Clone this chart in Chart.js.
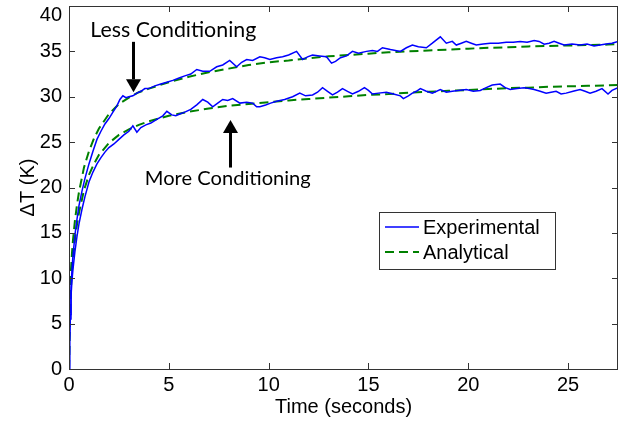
<!DOCTYPE html>
<html><head><meta charset="utf-8">
<script src="https://cdn.jsdelivr.net/npm/chart.js@4/dist/chart.umd.min.js"></script>
<style>html,body{margin:0;padding:0;background:#fff}</style>
</head><body>
<canvas id="c" width="622" height="422"></canvas>
<script>
// ---- data ----
const lessExpT = [0,0.03,0.06,0.1,0.15,0.2,0.3,0.4,0.5,0.65,0.8,1.0,1.2,1.4,1.6,1.8,2.0,2.2,2.4,2.55,2.7,2.85,3.0,3.2,3.4,3.6,3.8,4.0,4.3,4.6,4.9,5.2,5.55,5.8,6.1,6.4,6.7,7.05,7.4,7.7,8.05,8.4,8.65,8.9,9.2,9.56,9.8,10.06,10.4,10.7,11.0,11.4,11.7,11.95,12.2,12.55,12.9,13.15,13.35,13.6,13.9,14.2,14.5,14.9,15.2,15.45,15.7,16.1,16.6,16.9,17.2,17.5,17.9,18.2,18.6,18.9,19.2,19.4,19.65,19.9,20.15,20.4,20.75,21.1,21.5,21.9,22.25,22.6,22.95,23.3,23.55,23.8,24.05,24.3,24.55,24.8,25.2,25.6,25.95,26.3,26.6,26.9,27.2,27.5];
const lessExpY = [0,3,6,9,11,12.5,14.8,16.5,18,19.6,21,22.6,24,25.3,26.2,27,27.6,28.3,29,29.7,30.1,29.9,30.0,30.1,30.4,30.6,30.9,30.9,31.2,31.4,31.6,31.8,32.1,32.3,32.5,33.0,32.8,32.8,33.3,33.5,34.0,33.3,33.8,34.1,34.0,34.4,34.3,34.1,34.3,34.4,34.6,35.0,34.1,34.4,34.6,34.5,34.4,33.7,33.9,34.3,34.5,35.0,34.8,35.0,35.1,35.0,35.4,35.2,35.0,35.4,35.7,35.5,35.4,35.9,36.6,35.9,36.1,35.7,35.9,36.1,35.9,35.7,35.8,35.9,35.9,36.0,36.0,36.1,36.0,36.2,36.1,35.8,35.9,36.1,35.9,35.7,35.8,35.7,35.8,35.6,35.7,35.8,35.9,36.1];

const moreExpT = [0,0.03,0.06,0.1,0.15,0.2,0.3,0.4,0.5,0.65,0.8,1.0,1.2,1.4,1.6,1.8,2.0,2.25,2.5,2.75,3.0,3.2,3.4,3.6,3.85,4.1,4.4,4.7,4.9,5.15,5.35,5.55,5.8,6.1,6.4,6.7,6.95,7.2,7.45,7.7,7.95,8.2,8.56,8.9,9.2,9.4,9.56,9.85,10.1,10.4,10.8,11.2,11.56,11.85,12.2,12.45,12.7,12.95,13.2,13.45,13.7,13.95,14.2,14.5,14.8,15.0,15.2,15.5,15.9,16.25,16.6,16.75,17.0,17.2,17.4,17.6,17.9,18.2,18.6,18.9,19.2,19.5,19.9,20.25,20.6,20.9,21.2,21.6,21.85,22.1,22.45,22.8,23.05,23.3,23.6,23.9,24.15,24.4,24.65,24.9,25.25,25.6,25.85,26.1,26.4,26.7,27.0,27.2,27.5];
const moreExpY = [0,3,5.5,8,9.8,11,13,14.6,16,17.6,19,20.6,21.7,22.6,23.3,23.9,24.4,24.8,25.3,25.8,26.2,26.8,26.1,26.6,26.9,27.1,27.5,27.9,28.4,28.0,27.9,28.1,28.3,28.6,29.1,29.7,29.4,28.9,29.3,29.7,29.6,29.8,29.3,29.4,29.3,28.9,28.9,29.1,29.3,29.5,29.7,30.0,30.4,30.1,30.2,30.5,31.0,30.6,30.2,30.5,30.9,30.6,30.3,30.6,31.0,30.7,30.3,30.4,30.5,30.3,30.1,29.8,30.1,30.4,30.6,30.9,30.6,30.4,30.8,30.5,30.6,30.7,30.8,30.6,30.7,31.0,31.3,31.4,31.0,30.8,30.9,31.0,30.9,30.8,30.6,30.4,30.5,30.6,30.3,30.4,30.6,30.8,30.6,30.4,30.6,30.9,30.3,30.7,31.0];

const lessAnaT = [0,0.03,0.06,0.1,0.15,0.2,0.3,0.4,0.5,0.75,1.0,1.25,1.5,2.0,2.5,3.0,3.5,4,5,6,7,8,9,10,11,12,13,14,15,16,17,18,19,20,21,22,23,24,25,26,27,27.5];
const lessAnaY = [0,6,8.5,11,12.8,14.2,16.4,18.1,19.5,22.2,24.0,25.4,26.5,28.1,29.2,29.9,30.5,30.9,31.6,32.2,32.7,33.1,33.5,33.8,34.0,34.25,34.45,34.6,34.75,34.9,35.0,35.1,35.2,35.3,35.4,35.45,35.55,35.6,35.65,35.7,35.75,35.8];

const moreAnaT = [0,0.03,0.06,0.1,0.15,0.2,0.3,0.4,0.5,0.75,1.0,1.25,1.5,2.0,2.5,3.0,3.5,4,5,6,7,8,9,10,11,12,13,14,15,16,17,18,19,20,21,22,23,24,25,26,27,27.5];
const moreAnaY = [0,4.5,6.8,9,10.8,12.2,14.3,15.9,17.2,19.7,21.4,22.6,23.6,24.9,25.8,26.4,26.9,27.3,27.9,28.35,28.7,29.0,29.2,29.4,29.6,29.75,29.9,30.05,30.2,30.3,30.45,30.55,30.65,30.75,30.85,30.95,31.0,31.1,31.15,31.2,31.25,31.3];

const xTickValues = [0,5,10,15,20,25];
const yTickValues = [0,5,10,15,20,25,30,35,40];
const seriesNames = ['Experimental','Analytical'];
const annotations = [
  {text:'Less Conditioning', tx:1.07, ty:36.6, ax:3.2, ay0:36.05, ay1:30.5},
  {text:'More Conditioning', tx:3.8, ty:20.3, ax:8.06, ay0:22.2, ay1:27.45}
];

// ---- style ----
const BLUE = '#0000ff';
const GREEN = '#008000';
const AX = '"Liberation Sans", Arial, sans-serif';
const ANN = 'Lato, "Open Sans", sans-serif';
const FRAME = '#333333';

const toPts = (t, y) => t.map((v, i) => ({x: v, y: y[i]}));

const framePlugin = {
  id: 'frame',
  afterDraw(chart) {
    const ctx = chart.ctx;
    const a = chart.chartArea;
    const xs = chart.scales.x, ys = chart.scales.y;
    ctx.save();
    // box
    ctx.strokeStyle = FRAME; ctx.lineWidth = 1;
    ctx.strokeRect(Math.round(a.left) + 0.5, Math.round(a.top) + 0.5, Math.round(a.right - a.left) - 1, Math.round(a.bottom - a.top));
    // inward ticks
    const TL = 6;
    ctx.beginPath();
    xTickValues.forEach(v => {
      const px = Math.round(xs.getPixelForValue(v)) + 0.5;
      ctx.moveTo(px, a.bottom); ctx.lineTo(px, a.bottom - TL);
      ctx.moveTo(px, a.top); ctx.lineTo(px, a.top + TL);
    });
    yTickValues.forEach(v => {
      const py = Math.round(ys.getPixelForValue(v)) + 0.5;
      ctx.moveTo(a.left, py); ctx.lineTo(a.left + TL, py);
      ctx.moveTo(a.right, py); ctx.lineTo(a.right - TL, py);
    });
    ctx.stroke();
    // top y label (shifted down as in reference)
    ctx.fillStyle = '#000';
    ctx.font = '20px ' + AX;
    ctx.textAlign = 'right'; ctx.textBaseline = 'middle';
    ctx.fillText(String(yTickValues[yTickValues.length - 1]), a.left - 7, a.top + 9);

    // annotations
    annotations.forEach(an => {
      ctx.font = '20px ' + ANN;
      const w20 = ctx.measureText(an.text).width;
      const size = 20 * 166 / w20;
      ctx.font = size.toFixed(2) + 'px ' + ANN;
      ctx.textAlign = 'left'; ctx.textBaseline = 'alphabetic';
      ctx.fillStyle = '#000';
      ctx.fillText(an.text, xs.getPixelForValue(an.tx), ys.getPixelForValue(an.ty));
      // arrow
      const x = Math.round(xs.getPixelForValue(an.ax)) + 0.5;
      const y0 = ys.getPixelForValue(an.ay0), y1 = ys.getPixelForValue(an.ay1);
      const dir = Math.sign(y1 - y0);
      const headH = 13, headW = 7.5;
      ctx.strokeStyle = '#000'; ctx.lineWidth = 3;
      ctx.beginPath(); ctx.moveTo(x, y0); ctx.lineTo(x, y1 - dir * headH); ctx.stroke();
      ctx.beginPath();
      ctx.moveTo(x, y1);
      ctx.lineTo(x - headW, y1 - dir * headH);
      ctx.lineTo(x + headW, y1 - dir * headH);
      ctx.closePath(); ctx.fillStyle = '#000'; ctx.fill();
    });

    // legend
    const L = {x: 379, y: 212, w: 176, h: 57};
    ctx.fillStyle = '#fff';
    ctx.fillRect(L.x, L.y, L.w, L.h);
    ctx.strokeStyle = FRAME; ctx.lineWidth = 1;
    ctx.strokeRect(L.x + 0.5, L.y + 0.5, L.w, L.h);
    const items = [chart.data.datasets[0], chart.data.datasets[2]];
    items.forEach((ds, i) => {
      const yy = L.y + 15 + i * 25;
      ctx.save();
      ctx.strokeStyle = ds.borderColor; ctx.lineWidth = ds.borderWidth;
      ctx.setLineDash(ds.borderDash || []);
      ctx.beginPath(); ctx.moveTo(L.x + 6, yy); ctx.lineTo(L.x + 40, yy); ctx.stroke();
      ctx.restore();
      ctx.fillStyle = '#000';
      ctx.font = '20px ' + AX;
      ctx.textAlign = 'left'; ctx.textBaseline = 'middle';
      ctx.fillText(seriesNames[i], L.x + 44, yy + 1);
    });
    ctx.restore();
  }
};

new Chart(document.getElementById('c').getContext('2d'), {
  type: 'line',
  data: {
    datasets: [
      {label: seriesNames[0], data: toPts(lessExpT, lessExpY), borderColor: BLUE, borderWidth: 1.5, pointRadius: 0, fill: false, tension: 0},
      {label: seriesNames[0], data: toPts(moreExpT, moreExpY), borderColor: BLUE, borderWidth: 1.5, pointRadius: 0, fill: false, tension: 0},
      {label: seriesNames[1], data: toPts(lessAnaT, lessAnaY), borderColor: GREEN, borderWidth: 2, borderDash: [9, 5], pointRadius: 0, fill: false, tension: 0},
      {label: seriesNames[1], data: toPts(moreAnaT, moreAnaY), borderColor: GREEN, borderWidth: 2, borderDash: [9, 5], pointRadius: 0, fill: false, tension: 0}
    ]
  },
  options: {
    responsive: false,
    animation: false,
    devicePixelRatio: 1,
    layout: {padding: {top: 6, right: 4, left: 0, bottom: 0}},
    plugins: {legend: {display: false}, tooltip: {enabled: false}},
    scales: {
      x: {
        type: 'linear', min: 0, max: 27.5,
        afterFit(s) { s.height = 53; s.paddingLeft = 0; s.paddingRight = 0; },
        afterBuildTicks(s) { s.ticks = xTickValues.map(v => ({value: v})); },
        grid: {display: false, drawTicks: false},
        border: {display: false},
        ticks: {font: {family: AX, size: 20}, color: '#000', padding: 4, maxRotation: 0, autoSkip: false},
        title: {display: true, text: 'Time (seconds)', font: {family: AX, size: 20}, color: '#000', padding: {top: 0, bottom: 3}}
      },
      y: {
        type: 'linear', min: 0, max: 40,
        afterFit(s) { s.width = 69; s.paddingTop = 0; s.paddingBottom = 0; },
        afterBuildTicks(s) { s.ticks = yTickValues.map(v => ({value: v})); },
        grid: {display: false, drawTicks: false},
        border: {display: false},
        ticks: {font: {family: AX, size: 20}, color: '#000', padding: 7, autoSkip: false,
          callback: v => (v === yTickValues[yTickValues.length - 1] ? '' : String(v))},
        title: {display: true, text: 'ΔT (K)', font: {family: AX, size: 20}, color: '#000', padding: {top: 16, bottom: 0}}
      }
    }
  },
  plugins: [framePlugin]
});
</script>
</body></html>
